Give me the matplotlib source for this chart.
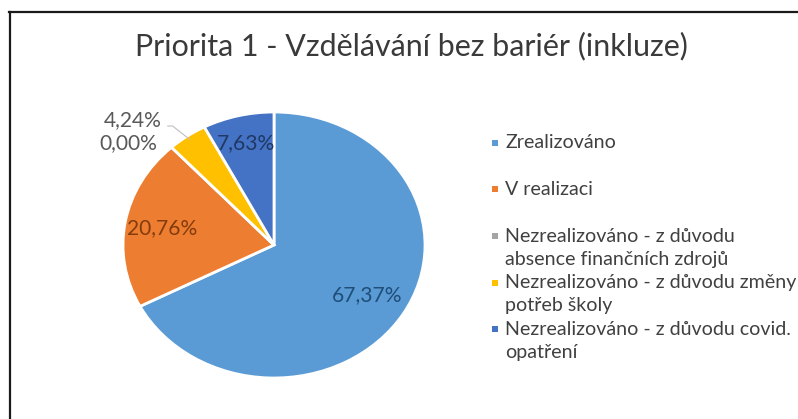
import numpy as np
import matplotlib
matplotlib.use('Agg')
import matplotlib.pyplot as plt
from matplotlib.lines import Line2D
from matplotlib.patches import Rectangle

plt.rcParams['font.family'] = ['Lato', 'DejaVu Sans']

title = 'Priorita 1 - Vzdělávání bez bariér (inkluze)'
categories = ['Zrealizováno',
              'V realizaci',
              'Nezrealizováno - z důvodu\nabsence finančních zdrojů',
              'Nezrealizováno - z důvodu změny\npotřeb školy',
              'Nezrealizováno - z důvodu covid.\nopatření']
values = [67.37, 20.76, 0.00, 4.24, 7.63]
value_labels = ['67,37%', '20,76%', '0,00%', '4,24%', '7,63%']
colors = ['#5B9BD5', '#ED7D31', '#A5A5A5', '#FFC000', '#4472C4']
label_colors = ['#1F4E79', '#843C0C', '#595959', '#595959', '#203864']

W, H = 798, 419
fig = plt.figure(figsize=(W / 100, H / 100), dpi=100)
fig.patch.set_facecolor('white')
renderer = fig.canvas.get_renderer()


def fit_width(txt, target_px):
    # scale font so the text is as wide as in the original
    w = txt.get_window_extent(renderer).width
    txt.set_fontsize(txt.get_fontsize() * target_px / w)
    return txt.get_fontsize()


# pie is slightly stretched horizontally in the original
cx, cy, rx, ry = 274, 245, 151, 133
ax = fig.add_axes([(cx - rx) / W, 1 - (cy + ry) / H, 2 * rx / W, 2 * ry / H])
wedges, _ = ax.pie(values, colors=colors, startangle=90, counterclock=False,
                   wedgeprops=dict(edgecolor='white', linewidth=2))
ax.set_aspect('auto')
ax.set_xlim(-1, 1)
ax.set_ylim(-1, 1)
ax.axis('off')

probe = fig.text(0, 0, '67,37%', fontsize=10)
lab_fs = fit_width(probe, 70)
probe.remove()

inside_dist = {0: 0.72, 1: 0.75, 4: 0.79}
for i, w in enumerate(wedges):
    ang = np.deg2rad((w.theta1 + w.theta2) / 2)
    if i in inside_dist:
        d = inside_dist[i]
        ax.text(d * np.cos(ang), d * np.sin(ang), value_labels[i], ha='center', va='center',
                fontsize=lab_fs, color=label_colors[i])
    elif i == 3:
        ax.annotate(value_labels[i], xy=(np.cos(ang) * 0.97, np.sin(ang) * 0.97),
                    xytext=(-20, 14), textcoords='offset points', ha='right', va='center',
                    fontsize=lab_fs, color=label_colors[i],
                    arrowprops=dict(arrowstyle='-', color='#BFBFBF', lw=0.8,
                                    connectionstyle='angle,angleA=0,angleB=-38,rad=0',
                                    relpos=(1.0, 0.2), shrinkA=2, shrinkB=0))
    else:
        ax.annotate(value_labels[i], xy=(np.cos(ang), np.sin(ang)),
                    xytext=(-10, 3), textcoords='offset points', ha='right', va='center',
                    fontsize=lab_fs, color=label_colors[i])

t = fig.text(411 / W, 1 - 46 / H, title, ha='center', va='center', fontsize=15, color='#3a3a3a')
fit_width(t, 552)

# legend, drawn by hand to keep Excel's spacing
probe = fig.text(0, 0, 'Nezrealizováno - z důvodu změny', fontsize=10)
leg_fs = fit_width(probe, 290)
probe.remove()
for i, lab in enumerate(categories):
    y0 = 143 + 46.5 * i
    fig.add_artist(Rectangle((492 / W, 1 - (y0 + 3) / H), 6 / W, 6 / H,
                             transform=fig.transFigure, facecolor=colors[i], edgecolor='none'))
    for j, line in enumerate(lab.split('\n')):
        fig.text(505 / W, 1 - (y0 + 23 * j) / H, line, ha='left', va='center',
                 fontsize=leg_fs, color='#404040')

# frame lines (top and left only)
fig.add_artist(Line2D([9 / W, 1], [1 - 12 / H, 1 - 12 / H], transform=fig.transFigure,
                      color='#1a1a1a', lw=1.6))
fig.add_artist(Line2D([10 / W, 10 / W], [1 - 12 / H, 0], transform=fig.transFigure,
                      color='#1a1a1a', lw=1.6))

fig.savefig('out.png', dpi=100, facecolor='white')
